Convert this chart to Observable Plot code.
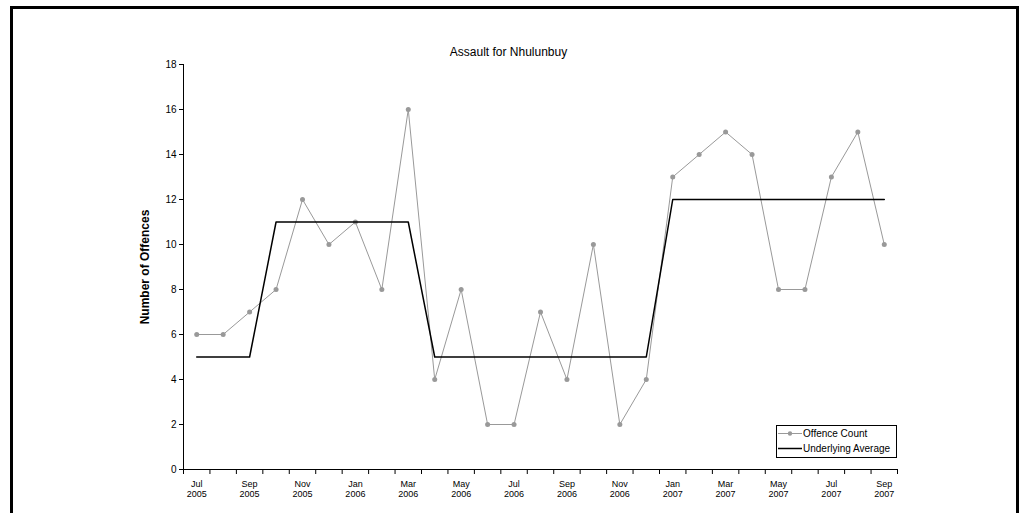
<!DOCTYPE html>
<html>
<head>
<meta charset="utf-8">
<script src="https://cdn.jsdelivr.net/npm/d3@7"></script>
<script src="https://cdn.jsdelivr.net/npm/@observablehq/plot@0.6"></script>
<style>
  html, body { margin: 0; padding: 0; background: #fff; }
  body { width: 1023px; height: 513px; overflow: hidden; position: relative; font-family: "Liberation Sans", Arial, sans-serif; }
  #frame { position: absolute; left: 10px; top: 6px; width: 1003px; height: 530px; border: 3px solid #000; pointer-events: none; }
  #chart { position: absolute; left: 0; top: 0; }
  #chart svg g[aria-label="y-axis label"] text { font-weight: bold; font-size: 12px; }
  #legend { position: absolute; left: 776px; top: 425px; width: 119px; height: 31px; border: 1px solid #000; background: #fff; font-size: 10px; color: #000; }
  #legend .row { position: relative; height: 15px; line-height: 15px; }
  #legend svg { position: absolute; left: 1px; top: 0; }
  #legend span { position: absolute; left: 26px; top: 0; white-space: nowrap; }
</style>
</head>
<body>
<div id="chart"></div>
<div id="legend"></div>
<div id="frame"></div>
<script>
const months = ["Jul 2005","Aug 2005","Sep 2005","Oct 2005","Nov 2005","Dec 2005",
  "Jan 2006","Feb 2006","Mar 2006","Apr 2006","May 2006","Jun 2006","Jul 2006","Aug 2006",
  "Sep 2006","Oct 2006","Nov 2006","Dec 2006","Jan 2007","Feb 2007","Mar 2007","Apr 2007",
  "May 2007","Jun 2007","Jul 2007","Aug 2007","Sep 2007"];
const offenceCount = [6,6,7,8,12,10,11,8,16,4,8,2,2,7,4,10,2,4,13,14,15,14,8,8,13,15,10];
const underlyingAverage = [5,5,5,11,11,11,11,11,11,5,5,5,5,5,5,5,5,5,12,12,12,12,12,12,12,12,12];
const yTicks = [0,2,4,6,8,10,12,14,16,18];
const labelIndex = [0,2,4,6,8,10,12,14,16,18,20,22,24,26];
const seriesNames = ["Offence Count","Underlying Average"];
const titleText = "Assault for Nhulunbuy";
const yLabel = "Number of Offences";

const data = months.map((m, i) => ({i, month: m, count: offenceCount[i], avg: underlyingAverage[i]}));
const boundaries = d3.range(0, months.length + 1).map(k => k - 0.5);

const grey = "#999999";

const chart = Plot.plot({
  width: 1023,
  height: 513,
  marginLeft: 183,
  marginRight: 126,
  marginTop: 64,
  marginBottom: 44,
  style: {fontFamily: "'Liberation Sans', Arial, sans-serif", fontSize: "10px", color: "#000", background: "transparent"},
  x: {type: "linear", domain: [-0.5, months.length - 0.5]},
  y: {domain: [0, 18]},
  marks: [
    Plot.axisY({ticks: yTicks, tickSize: 4, tickPadding: 3, fontSize: 10, label: yLabel, labelAnchor: "center", labelArrow: "none", labelOffset: 43}),
    Plot.axisX({ticks: boundaries, tickSize: 5, tickFormat: () => "", label: null}),
    Plot.axisX({ticks: labelIndex, tickSize: 0, tickPadding: 10, fontSize: 9, lineHeight: 1.15,
      tickFormat: i => months[i].replace(" ", "\n"), label: null}),
    Plot.ruleX([-0.5], {y1: 0, y2: 18, stroke: "#000"}),
    Plot.ruleY([0], {stroke: "#000"}),
    Plot.line(data, {x: "i", y: "count", stroke: grey, strokeWidth: 1}),
    Plot.dot(data, {x: "i", y: "count", r: 2.5, fill: grey, stroke: "none"}),
    Plot.line(data, {x: "i", y: "avg", stroke: "#000", strokeWidth: 1.5}),
    Plot.text([titleText], {frameAnchor: "top", dy: -12, dx: -32, lineAnchor: "middle", fontSize: 12})
  ]
});
document.getElementById("chart").appendChild(chart);

// legend
const legend = document.getElementById("legend");
seriesNames.forEach((name, k) => {
  const row = document.createElement("div");
  row.className = "row";
  const sw = k === 0
    ? `<svg width="24" height="15"><line x1="0" x2="24" y1="7.5" y2="7.5" stroke="${grey}" stroke-width="1"/><circle cx="12" cy="7.5" r="2.2" fill="${grey}"/></svg>`
    : `<svg width="24" height="15"><line x1="0" x2="24" y1="7.5" y2="7.5" stroke="#000" stroke-width="1.5"/></svg>`;
  row.innerHTML = sw + `<span>${name}</span>`;
  legend.appendChild(row);
});
</script>
</body>
</html>
